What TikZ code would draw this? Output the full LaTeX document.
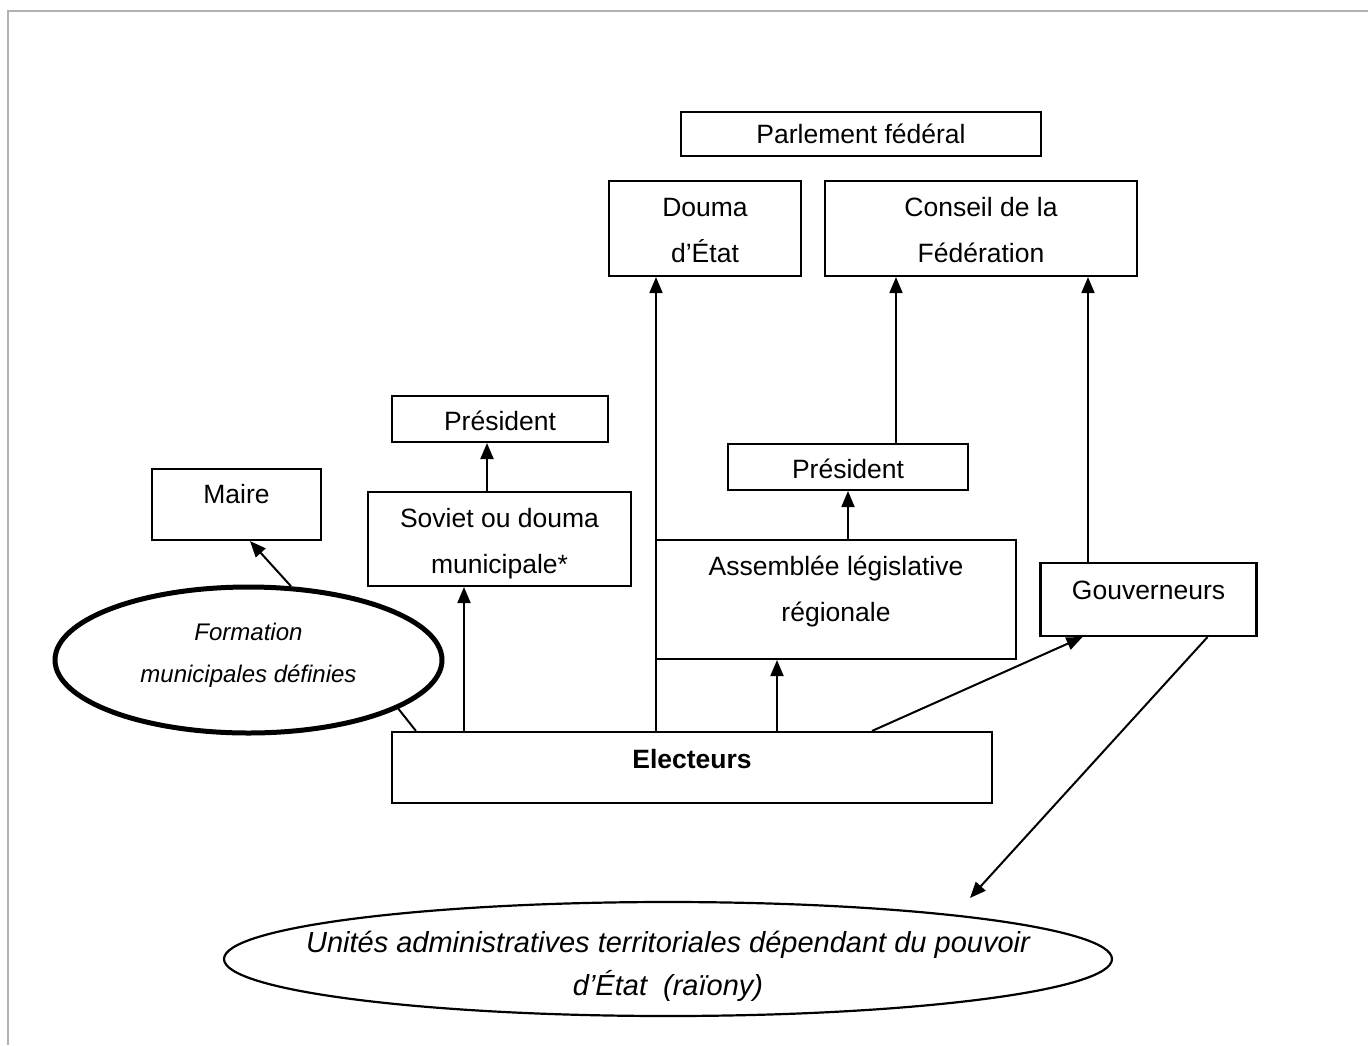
\documentclass[tikz,border=0pt]{standalone}
\usepackage{fontspec}
\setmainfont{Liberation Sans}
\usetikzlibrary{positioning,shapes.geometric,arrows.meta}
\tikzset{
	box/.style={draw, line width=2.1pt, inner sep=0pt, anchor=base, align=center,
		font=\fontsize{26.5}{46}\selectfont},
	bubble/.style={draw, ellipse, inner sep=0pt, anchor=base, align=center},
	arr/.style={line width=2pt, -{Triangle[length=16pt,width=13pt]}}
}
\begin{document}
\begin{tikzpicture}[x=1pt, y=-1pt]
	\useasboundingbox (0,0) rectangle (1368,1045);
	\draw[line width=2.2pt, black!30] (8,1045) -- (8,11) -- (1368,11);
	
	% federal level
	\node[box, minimum width=360pt, text height=31pt, text depth=13pt] (parl) at (861,143) {Parlement fédéral};
	\node[box, minimum width=192pt, text height=81pt, text depth=14pt] (douma) at (705,262) {Douma\\d’État};
	\node[box, minimum width=312pt, text height=81pt, text depth=14pt] (conseil) at (981,262) {Conseil de la\\Fédération};
	
	% municipal level
	\node[box, minimum width=216pt, text height=34pt, text depth=12pt] (presA) at (500,430) {Président};
	\node[box, minimum width=169pt, text height=34pt, text depth=37pt] (maire) at (236.5,503) {Maire};
	\node[box, minimum width=263pt, text height=81pt, text depth=13pt] (sov) at (499.5,573) {Soviet ou douma\\municipale*};
	
	% regional level
	\node[box, minimum width=240pt, text height=34pt, text depth=12pt] (presB) at (848,478) {Président};
	\node[box, minimum width=360pt, text height=81pt, text depth=38pt] (assemb) at (836,621) {Assemblée législative\\régionale};
	\node[box, minimum width=216pt, text height=36pt, text depth=37pt] (gouv) at (1148.5,599) {Gouverneurs};
	
	\node[box, minimum width=600pt, text height=36pt, text depth=35pt, font=\fontsize{26.5}{46}\selectfont\bfseries] (elect) at (692,768) {Electeurs};
	
	\node[bubble, line width=5pt, minimum width=387pt, minimum height=146pt, text height=62pt, text depth=18pt,
		font=\fontsize{24}{42}\selectfont\itshape] (form) at (248.5,682) {Formation\\municipales définies};
	\node[bubble, line width=2.2pt, inner xsep=-60pt, inner ysep=-10pt, minimum width=888pt, minimum height=114pt,
		text height=80pt, text depth=8pt, font=\fontsize{29}{43}\selectfont\itshape] (raion) at (668,995)
		{Unités administratives territoriales dépendant du pouvoir\\d’État\ \ (raïony)};
	
	% arrow ends
	\coordinate (s1) at ([xshift=-35.5pt]sov.south);
	\coordinate (p1) at ([xshift=-13pt]presA.south);
	\coordinate (d1) at ([xshift=-49pt]douma.south);
	\coordinate (a1) at ([xshift=-59pt]assemb.south);
	\coordinate (c1) at ([xshift=-85pt]conseil.south);
	\coordinate (c2) at ([xshift=107pt]conseil.south);
	\coordinate (g1) at ([xshift=-66pt]gouv.south);
	\coordinate (m1) at ([xshift=13.5pt]maire.south);
	\coordinate (raiontip) at (970,898);
	
	\draw[arr] (elect.north -| s1) -- (s1);
	\draw[arr] (sov.north -| p1) -- (p1);
	\draw[arr] (elect.north -| d1) -- (d1);
	\draw[arr] (elect.north -| a1) -- (a1);
	\draw[arr] (assemb.north -| presB.south) -- (presB.south);
	\draw[arr] (presB.north -| c1) -- (c1);
	\draw[arr] (gouv.north -| c2) -- (c2);
	\draw[arr] ([xshift=180pt]elect.north) -- (g1);
	\draw[arr] (form.60) -- (m1);
	\draw[line width=2pt] (form.-18) -- ([xshift=25pt]elect.north west);
	\draw[arr] ([xshift=59pt]gouv.south) -- (raiontip);
\end{tikzpicture}
\end{document}
